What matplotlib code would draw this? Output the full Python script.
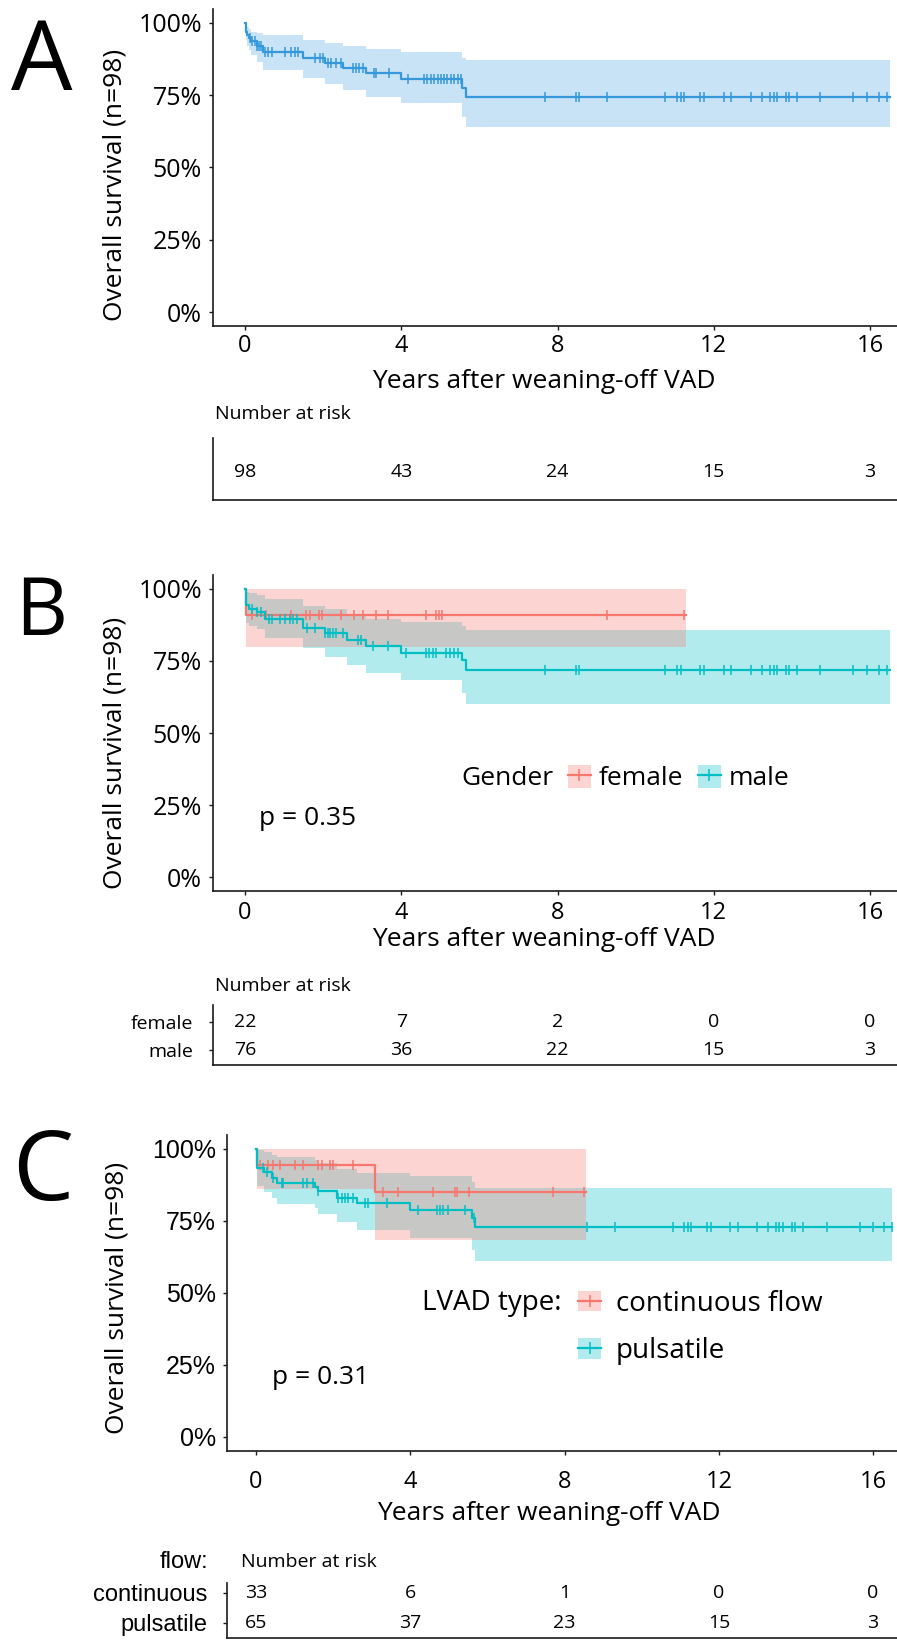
import numpy as np
import matplotlib
matplotlib.use('Agg')
import matplotlib.pyplot as plt
from matplotlib.patches import Patch
from matplotlib.lines import Line2D
from matplotlib.legend_handler import HandlerTuple

plt.rcParams['font.family'] = ['Open Sans', 'DejaVu Sans']

W, H = 897, 1641

# shared axis ticks
year_ticks = [0, 4, 8, 12, 16]
surv_ticks = [0, 0.25, 0.5, 0.75, 1.0]
surv_labels = ['0%', '25%', '50%', '75%', '100%']
risk_times = [0, 4, 8, 12, 16]

# A: all patients (n=98)
a_time = [0, 0.02, 0.05, 0.09, 0.15, 0.3, 0.45, 1.49, 2.04, 2.5, 3.1, 3.99, 5.55, 5.65, 16.5]
a_surv = [1.0, 0.97, 0.959, 0.948, 0.938, 0.92, 0.901, 0.878, 0.86, 0.843, 0.826, 0.805, 0.775, 0.745, 0.745]
a_upper = [1.0, 0.99, 0.985, 0.98, 0.97, 0.965, 0.958, 0.94, 0.93, 0.92, 0.91, 0.90, 0.88, 0.87, 0.87]
a_lower = [1.0, 0.94, 0.92, 0.905, 0.89, 0.865, 0.837, 0.808, 0.79, 0.768, 0.745, 0.722, 0.676, 0.639, 0.639]
a_cens = [0.13, 0.19, 0.25, 0.30, 0.36, 0.42, 0.51, 0.59, 0.68, 1.02, 1.19, 1.27, 1.36, 1.78,
          1.91, 2.0, 2.12, 2.21, 2.34, 2.46, 2.76, 2.84, 2.93, 3.01, 3.31, 3.36, 3.69, 4.16,
          4.59, 4.67, 4.76, 4.84, 4.93, 5.01, 5.1, 5.18, 5.27, 5.35, 5.44, 5.52, 7.67, 8.47,
          8.55, 9.26, 10.76, 11.07, 11.17, 11.25, 11.64, 11.74, 12.25, 12.44, 12.94, 13.23,
          13.44, 13.53, 13.63, 13.84, 13.93, 14.14, 14.73, 15.57, 15.92, 16.22, 16.43]
a_risk = [98, 43, 24, 15, 3]

# B: by gender
fem_time = [0, 0.03, 11.3]
fem_surv = [1.0, 0.909, 0.909]
fem_upper = [1.0, 1.0, 1.0]
fem_lower = [1.0, 0.80, 0.80]
fem_cens = [0.17, 0.55, 1.19, 1.57, 1.66, 1.89, 1.98, 2.46, 2.80, 3.01, 3.36, 3.65, 4.63,
            4.88, 4.97, 5.05, 9.26, 11.25]

male_time = [0, 0.02, 0.1, 0.3, 0.5, 1.49, 2.04, 2.6, 3.1, 3.99, 5.56, 5.65, 16.5]
male_surv = [1.0, 0.944, 0.93, 0.92, 0.895, 0.863, 0.848, 0.823, 0.802, 0.779, 0.753, 0.719, 0.719]
male_upper = [1.0, 0.99, 0.985, 0.978, 0.965, 0.94, 0.93, 0.91, 0.895, 0.885, 0.87, 0.858, 0.858]
male_lower = [1.0, 0.88, 0.87, 0.86, 0.828, 0.794, 0.765, 0.736, 0.707, 0.684, 0.638, 0.601, 0.601]
male_cens = [0.17, 0.30, 0.42, 0.62, 0.68, 0.89, 1.02, 1.15, 1.23, 1.32, 1.59, 1.78, 2.04,
             2.12, 2.17, 2.25, 2.34, 2.51, 2.89, 2.97, 3.27, 3.65, 4.12, 4.63, 4.71, 4.8, 4.88,
             5.14, 5.26, 5.35, 5.44, 7.67, 8.47, 8.54, 10.76, 11.07, 11.15, 11.64, 11.74,
             12.25, 12.44, 12.94, 13.23, 13.44, 13.53, 13.63, 13.84, 13.93, 14.14, 14.73,
             15.57, 15.92, 16.22, 16.43]
gender_labels = ['female', 'male']
fem_risk = [22, 7, 2, 0, 0]
male_risk = [76, 36, 22, 15, 3]

# C: by LVAD type
cont_time = [0, 0.03, 3.09, 8.55]
cont_surv = [1.0, 0.945, 0.85, 0.85]
cont_upper = [1.0, 1.0, 1.0, 1.0]
cont_lower = [1.0, 0.862, 0.684, 0.684]
cont_cens = [0.1, 0.32, 0.45, 0.62, 1.01, 1.23, 1.62, 1.70, 1.92, 2.0, 2.52, 3.30, 3.69,
             4.6, 5.16, 5.22, 5.51, 7.71, 8.51]

puls_time = [0, 0.02, 0.2, 0.41, 0.54, 1.53, 1.62, 2.1, 2.61, 3.99, 5.59, 5.68, 16.5]
puls_surv = [1.0, 0.934, 0.92, 0.899, 0.883, 0.869, 0.854, 0.829, 0.811, 0.788, 0.76, 0.728, 0.728]
puls_upper = [1.0, 0.995, 0.99, 0.98, 0.97, 0.96, 0.95, 0.93, 0.915, 0.904, 0.885, 0.864, 0.864]
puls_lower = [1.0, 0.87, 0.85, 0.83, 0.81, 0.795, 0.775, 0.745, 0.72, 0.69, 0.649, 0.609, 0.609]
puls_cens = [0.19, 0.28, 0.45, 0.67, 0.71, 1.23, 1.31, 1.49, 1.62, 2.13, 2.22, 2.31, 2.39,
             2.52, 2.83, 2.91, 3.39, 4.21, 4.69, 4.77, 4.86, 4.99, 5.42, 5.64, 8.57, 9.31,
             10.8, 11.11, 11.19, 11.27, 11.69, 11.79, 12.29, 12.49, 12.98, 13.28, 13.48,
             13.57, 13.67, 13.89, 13.97, 14.19, 14.8, 15.65, 16.0, 16.29, 16.49]
lvad_labels = ['continuous flow', 'pulsatile']
flow_labels = ['continuous', 'pulsatile']
cont_risk = [33, 6, 1, 0, 0]
puls_risk = [65, 37, 23, 15, 3]

BLUE = '#3498DB'
RED = '#F8766D'
TEAL = '#00BFC4'
INK = '#1a1a1a'

fig = plt.figure(figsize=(W / 100, H / 100), dpi=100)


def add_ax(left, top, right, bottom):
    # axes from pixel edges
    return fig.add_axes([left / W, 1 - bottom / H, (right - left) / W, (bottom - top) / H])


def ftext(x, y, s, **kw):
    return fig.text(x / W, 1 - y / H, s, **kw)


def draw_band(ax, t, lo, hi, color, alpha):
    ax.fill_between(t, lo, hi, step='post', color=color, alpha=alpha, lw=0)


def draw_curve(ax, t, s, cens, color):
    ax.step(t, s, where='post', color=color, lw=1.6)
    t = np.asarray(t)
    s = np.asarray(s)
    idx = np.searchsorted(t, cens, side='right') - 1
    ax.plot(cens, s[idx], ls='none', marker='|', ms=7, mew=1.1, color=color)


def style_main(ax, xlim, xpad, yfont=None):
    for side in ['top', 'right']:
        ax.spines[side].set_visible(False)
    for side in ['left', 'bottom']:
        ax.spines[side].set_linewidth(1.2)
        ax.spines[side].set_color(INK)
    ax.set_xlim(xlim)
    ax.set_ylim(-0.047, 1.048)
    ax.set_xticks(year_ticks)
    ax.set_yticks(surv_ticks)
    ax.set_yticklabels(surv_labels)
    ax.tick_params(axis='x', length=3, width=1, color=INK, labelsize=17, pad=xpad)
    ax.tick_params(axis='y', length=3, width=1, color=INK, labelsize=18, pad=5)
    if yfont:
        for lab in ax.get_yticklabels():
            lab.set_family(yfont)


def style_table(ax, xlim, ylim):
    for side in ['top', 'right']:
        ax.spines[side].set_visible(False)
    for side in ['left', 'bottom']:
        ax.spines[side].set_linewidth(1.2)
        ax.spines[side].set_color(INK)
    ax.set_xlim(xlim)
    ax.set_ylim(ylim)
    ax.set_xticks([])


def key(color, alpha):
    # shaded box with the curve's line and censor mark on top
    return (Patch(facecolor=color, alpha=alpha, edgecolor='none'),
            Line2D([], [], color=color, lw=1.6, marker='|', ms=8, mew=1.1))


# ---------------- Panel A ----------------
xlim_ab = (-0.819, 16.69)
axA = add_ax(213, 9, 897, 325.6)
draw_band(axA, a_time, a_lower, a_upper, BLUE, 0.27)
draw_curve(axA, a_time, a_surv, a_cens, BLUE)
style_main(axA, xlim_ab, 3)
axA.set_ylabel('Overall survival (n=98)', fontsize=19)
axA.yaxis.set_label_coords(-0.143, 0.444)
axA.yaxis.label.set_va('center')
axA.set_xlabel('Years after weaning-off VAD', fontsize=19)
axA.xaxis.set_label_coords(0.484, -0.175)
axA.xaxis.label.set_va('center')
ftext(11, 90, 'A', fontsize=70, va='baseline')

tabA = add_ax(213, 438, 897, 500)
style_table(tabA, xlim_ab, (0.933, -1.133))
tabA.set_yticks([])
for t, n in zip(risk_times, a_risk):
    tabA.text(t, 0, str(n), ha='center', va='center', fontsize=14)
ftext(215, 414, 'Number at risk', fontsize=14, va='center')

# ---------------- Panel B ----------------
axB = add_ax(213, 575, 897, 891)
draw_band(axB, male_time, male_lower, male_upper, TEAL, 0.3)
draw_band(axB, fem_time, fem_lower, fem_upper, RED, 0.3)
draw_curve(axB, fem_time, fem_surv, fem_cens, RED)
draw_curve(axB, male_time, male_surv, male_cens, TEAL)
style_main(axB, xlim_ab, 4.5)
axB.set_ylabel('Overall survival (n=98)', fontsize=19)
axB.yaxis.set_label_coords(-0.143, 0.438)
axB.yaxis.label.set_va('center')
axB.set_xlabel('Years after weaning-off VAD', fontsize=19)
axB.xaxis.set_label_coords(0.484, -0.152)
axB.xaxis.label.set_va('center')
axB.text(0.36, 0.205, 'p = 0.35', fontsize=19, va='center', ha='left')
ftext(461, 778, 'Gender', fontsize=19, va='center')
axB.legend([key(RED, 0.3), key(TEAL, 0.3)], gender_labels,
           handler_map={tuple: HandlerTuple(ndivide=1, pad=0)},
           loc='center left', bbox_to_anchor=(568 / W, 1 - 778 / H),
           bbox_transform=fig.transFigure, ncol=2, frameon=False, fontsize=19,
           handlelength=0.87, handleheight=0.95, handletextpad=0.3,
           columnspacing=0.55, borderpad=0, borderaxespad=0)
ftext(15, 635, 'B', fontsize=58, va='baseline')

tabB = add_ax(213, 1005, 897, 1065)
style_table(tabB, xlim_ab, (1.536, -0.607))
tabB.set_yticks([0, 1])
tabB.set_yticklabels(gender_labels)
tabB.tick_params(axis='y', length=3, width=1, color=INK, labelsize=14, pad=11)
for row, counts in enumerate([fem_risk, male_risk]):
    for t, n in zip(risk_times, counts):
        tabB.text(t, row, str(n), ha='center', va='center', fontsize=14)
ftext(215, 986, 'Number at risk', fontsize=14, va='center')

# ---------------- Panel C ----------------
xlim_c = (-0.752, 16.62)
axC = add_ax(227, 1135, 897, 1450.5)
draw_band(axC, puls_time, puls_lower, puls_upper, TEAL, 0.3)
draw_band(axC, cont_time, cont_lower, cont_upper, RED, 0.3)
draw_curve(axC, cont_time, cont_surv, cont_cens, RED)
draw_curve(axC, puls_time, puls_surv, puls_cens, TEAL)
style_main(axC, xlim_c, 11, yfont='Liberation Sans')
axC.set_ylabel('Overall survival (n=98)', fontsize=19)
axC.yaxis.set_label_coords(-0.164, 0.483)
axC.yaxis.label.set_va('center')
axC.set_xlabel('Years after weaning-off VAD', fontsize=19)
axC.xaxis.set_label_coords(0.48, -0.2)
axC.xaxis.label.set_va('center')
axC.text(0.41, 0.205, 'p = 0.31', fontsize=19, va='center', ha='left')
ftext(422, 1303, 'LVAD type:', fontsize=20, va='center')
axC.legend([key(RED, 0.3), key(TEAL, 0.3)], lvad_labels,
           handler_map={tuple: HandlerTuple(ndivide=1, pad=0)},
           loc='center left', bbox_to_anchor=(578 / W, 1 - 1327.5 / H),
           bbox_transform=fig.transFigure, ncol=1, frameon=False, fontsize=20,
           handlelength=0.83, handleheight=0.75, handletextpad=0.54,
           labelspacing=0.7, borderpad=0, borderaxespad=0)
ftext(12, 1200, 'C', fontsize=70, va='baseline')

tabC = add_ax(227, 1583, 897, 1638)
style_table(tabC, xlim_c, (1.5, -0.333))
tabC.set_yticks([0, 1])
tabC.set_yticklabels(flow_labels)
tabC.tick_params(axis='y', length=3, width=1, color=INK, labelsize=17, pad=11)
for lab in tabC.get_yticklabels():
    lab.set_family('Liberation Sans')
for row, counts in enumerate([cont_risk, puls_risk]):
    for t, n in zip(risk_times, counts):
        tabC.text(t, row, str(n), ha='center', va='center', fontsize=14)
ftext(241, 1562, 'Number at risk', fontsize=14, va='center')
ftext(208, 1562, 'flow:', fontsize=17, va='center', ha='right', family='Liberation Sans')

fig.savefig('out.png', dpi=100)
